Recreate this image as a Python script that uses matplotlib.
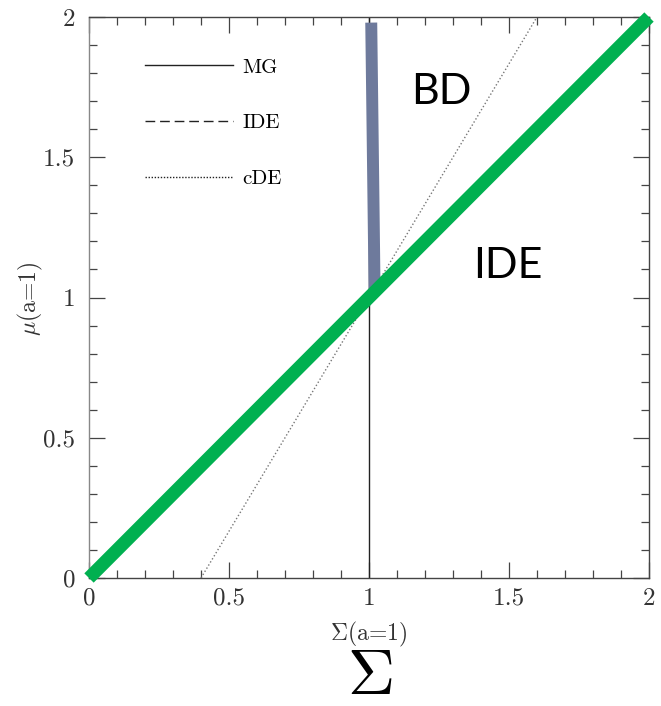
import numpy as np
import matplotlib
matplotlib.use('Agg')
import matplotlib.pyplot as plt
from matplotlib.lines import Line2D

plt.rcParams['font.family'] = 'cmr10'
plt.rcParams['mathtext.fontset'] = 'cm'
plt.rcParams['axes.formatter.use_mathtext'] = True

# lines in the Sigma-mu plane
ide_sigma = [0.0, 2.0]
ide_mu = [0.0, 2.0]
mg_sigma = [1.0, 1.0]
mg_mu = [0.0, 2.0]
cde_sigma = [0.4, 1.6]
cde_mu = [0.0, 2.0]
bd_sigma = [1.02, 1.008]
bd_mu = [1.02, 1.98]

major_ticks = [0, 0.5, 1, 1.5, 2]
tick_labels = ['0', '0.5', '1', '1.5', '2']
legend_labels = ['MG', 'IDE', 'cDE']

fig = plt.figure(figsize=(6.61, 7.06), dpi=100)
ax = fig.add_axes([89/661, 128/706, 560/661, 561/706])

ax.plot(mg_sigma, mg_mu, color='#222222', lw=1.0, zorder=2)
ax.plot(ide_sigma, ide_mu, color='#222222', lw=1.0, dashes=(7, 3.5), zorder=2)
ax.plot(cde_sigma, cde_mu, color='#777777', lw=1.0, dashes=(1, 1.6), zorder=2)
ax.plot(bd_sigma, bd_mu, color='#6e7a9c', lw=8.6, solid_capstyle='butt', zorder=3)
ax.plot(ide_sigma, ide_mu, color='#00b050', lw=9.5, solid_capstyle='butt',
        clip_on=False, zorder=4)

ax.set_xlim(0, 2)
ax.set_ylim(0, 2)
ax.set_xticks(major_ticks)
ax.set_xticklabels(tick_labels)
ax.set_yticks(major_ticks)
ax.set_yticklabels(tick_labels)
ax.set_xticks(np.arange(0, 2.01, 0.1), minor=True)
ax.set_yticks(np.arange(0, 2.01, 0.1), minor=True)
ax.tick_params(which='both', direction='in', top=True, right=True,
               color='#444444', width=0.9, labelcolor='#333333')
ax.tick_params(which='major', length=11.5, labelsize=18)
ax.tick_params(which='minor', length=5.8)
ax.tick_params(axis='y', which='major', pad=10)
ax.tick_params(axis='x', which='major', pad=7)
for side in ['top', 'right', 'bottom']:
    ax.spines[side].set_color('#444444')
ax.spines['left'].set_color('#888888')
for sp in ax.spines.values():
    sp.set_linewidth(1.0)

ax.set_xlabel(r'$\Sigma$(a=1)', fontsize=17, color='#333333')
ax.set_ylabel(r'$\mu$(a=1)', fontsize=17, color='#333333')
ax.xaxis.set_label_coords(0.5, -0.075)
ax.yaxis.set_label_coords(-0.079, 0.498)

handles = [Line2D([], [], color='#222222', lw=1.0),
           Line2D([], [], color='#222222', lw=1.0, dashes=(7, 3.5)),
           Line2D([], [], color='#222222', lw=1.0, dashes=(1, 1.2))]
ax.legend(handles, legend_labels, loc='upper left', bbox_to_anchor=(0.1, 0.927),
          frameon=False, fontsize=15, borderpad=0, borderaxespad=0,
          handlelength=4.2, handletextpad=0.48, labelspacing=1.78)

ax.text(1.257, 1.731, 'BD', fontsize=31, family='Lato', ha='center', va='center')
ax.text(1.496, 1.112, 'IDE', fontsize=31, family='Lato', ha='center', va='center')

fig.text(370/661, 1 - 678/706, r'$\Sigma$', fontsize=47, ha='center', va='center')

fig.savefig('out.png', dpi=100)
